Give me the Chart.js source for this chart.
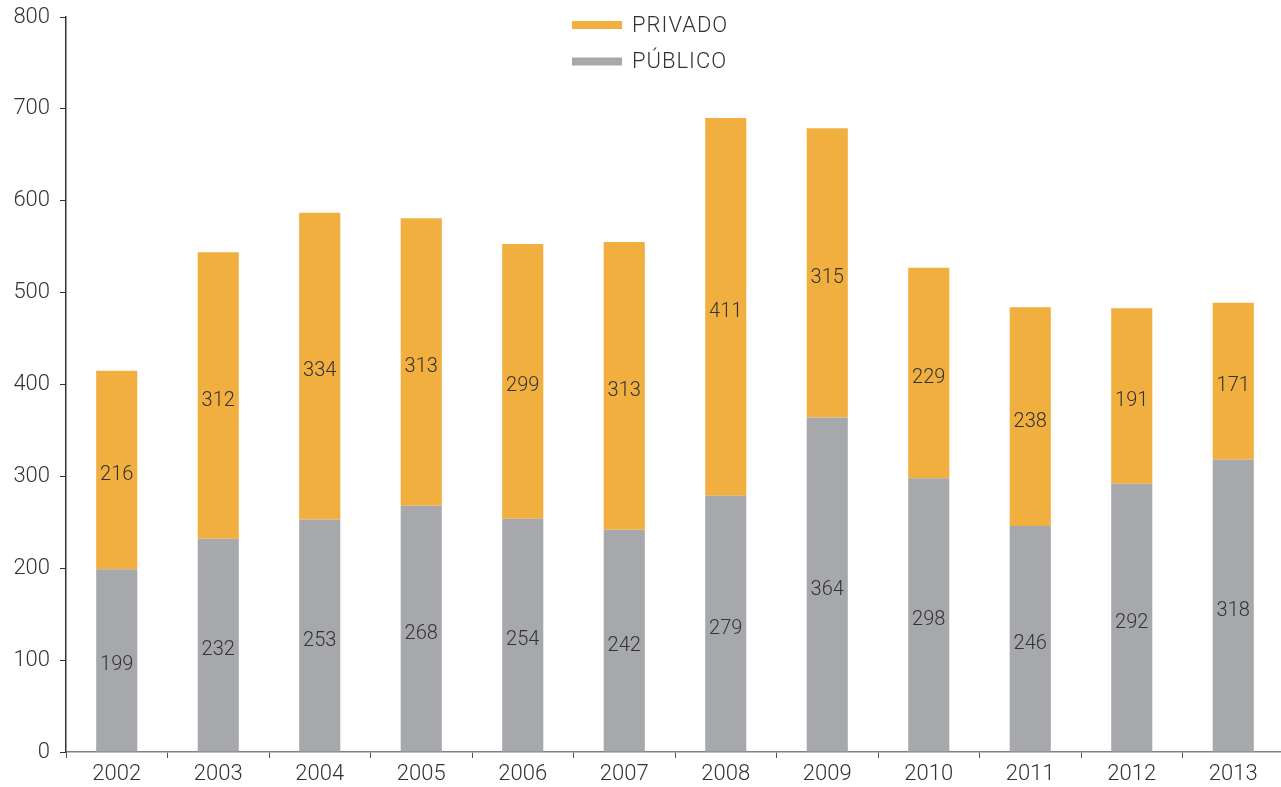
<!DOCTYPE html>
<html>
<head>
<meta charset="utf-8">
<script src="https://cdn.jsdelivr.net/npm/chart.js@4/dist/chart.umd.min.js"></script>
<style>
  html, body { margin: 0; padding: 0; background: #fff; overflow: hidden; }
  #wrap { width: 1284px; height: 787px; }
</style>
</head>
<body>
<div id="wrap"><canvas id="c" width="1284" height="787"></canvas></div>
<script>
const years = ['2002','2003','2004','2005','2006','2007','2008','2009','2010','2011','2012','2013'];
const publico = [199,232,253,268,254,242,279,364,298,246,292,318];
const privado = [216,312,334,313,299,313,411,315,229,238,191,171];
const seriesNames = ['PÚBLICO', 'PRIVADO'];
const yTicks = [0,100,200,300,400,500,600,700,800];

const ORANGE = '#F1AF40';
const GRAY = '#A7A8AC';
const TEXT = '#333333';
const FONT_FAMILY = 'Roboto, "Liberation Sans", Arial, sans-serif';

const barLabels = {
  id: 'barLabels',
  afterDatasetsDraw(chart) {
    const ctx = chart.ctx;
    ctx.save();
    ctx.font = '300 20px ' + FONT_FAMILY;
    ctx.fillStyle = TEXT;
    ctx.textAlign = 'center';
    ctx.textBaseline = 'middle';
    chart.data.datasets.forEach((ds, di) => {
      const meta = chart.getDatasetMeta(di);
      meta.data.forEach((bar, i) => {
        const p = bar.getProps(['x','y','base'], true);
        ctx.fillText(String(ds.data[i]), p.x, (p.y + p.base) / 2 + 5);
      });
    });
    ctx.restore();
  }
};

const customLegend = {
  id: 'customLegend',
  afterDraw(chart) {
    const ctx = chart.ctx;
    ctx.save();
    ctx.font = '300 22px ' + FONT_FAMILY;
    if ('letterSpacing' in ctx) ctx.letterSpacing = '1px';
    ctx.textAlign = 'left';
    ctx.textBaseline = 'middle';
    const items = [
      {label: seriesNames[1], color: ORANGE, y: 25},
      {label: seriesNames[0], color: GRAY, y: 61.5}
    ];
    items.forEach(it => {
      ctx.fillStyle = it.color;
      ctx.fillRect(572, it.y - 4, 50, 8);
      ctx.fillStyle = TEXT;
      ctx.fillText(it.label, 632, it.y + 1);
    });
    ctx.restore();
  }
};

new Chart(document.getElementById('c'), {
  type: 'bar',
  data: {
    labels: years,
    datasets: [
      { label: seriesNames[0], data: publico, backgroundColor: GRAY, barPercentage: 0.405, categoryPercentage: 1 },
      { label: seriesNames[1], data: privado, backgroundColor: ORANGE, barPercentage: 0.405, categoryPercentage: 1 }
    ]
  },
  options: {
    responsive: false,
    animation: false,
    layout: { padding: { top: 17, right: 0, bottom: 0, left: 0 } },
    plugins: { legend: { display: false }, tooltip: { enabled: false } },
    scales: {
      x: {
        stacked: true,
        grid: { offset: true, drawOnChartArea: false, drawTicks: true, tickLength: 6, color: '#555555' },
        border: { color: '#808080', width: 1.5 },
        ticks: { font: { family: FONT_FAMILY, size: 22, weight: '300' }, color: TEXT, padding: 3 },
        afterFit(scale) { scale.height = 35; scale.paddingLeft = 0; scale.paddingRight = 0; }
      },
      y: {
        stacked: true,
        min: 0, max: 800,
        afterBuildTicks(scale) { scale.ticks = yTicks.map(v => ({ value: v })); },
        grid: { drawOnChartArea: false, drawTicks: true, tickLength: 6, color: '#333333' },
        border: { color: '#333333', width: 1.5 },
        ticks: { font: { family: FONT_FAMILY, size: 22, weight: '300' }, color: TEXT, padding: 10 },
        afterFit(scale) { scale.width = 66; scale.paddingTop = 0; scale.paddingBottom = 0; }
      }
    }
  },
  plugins: [barLabels, customLegend]
});
</script>
</body>
</html>
